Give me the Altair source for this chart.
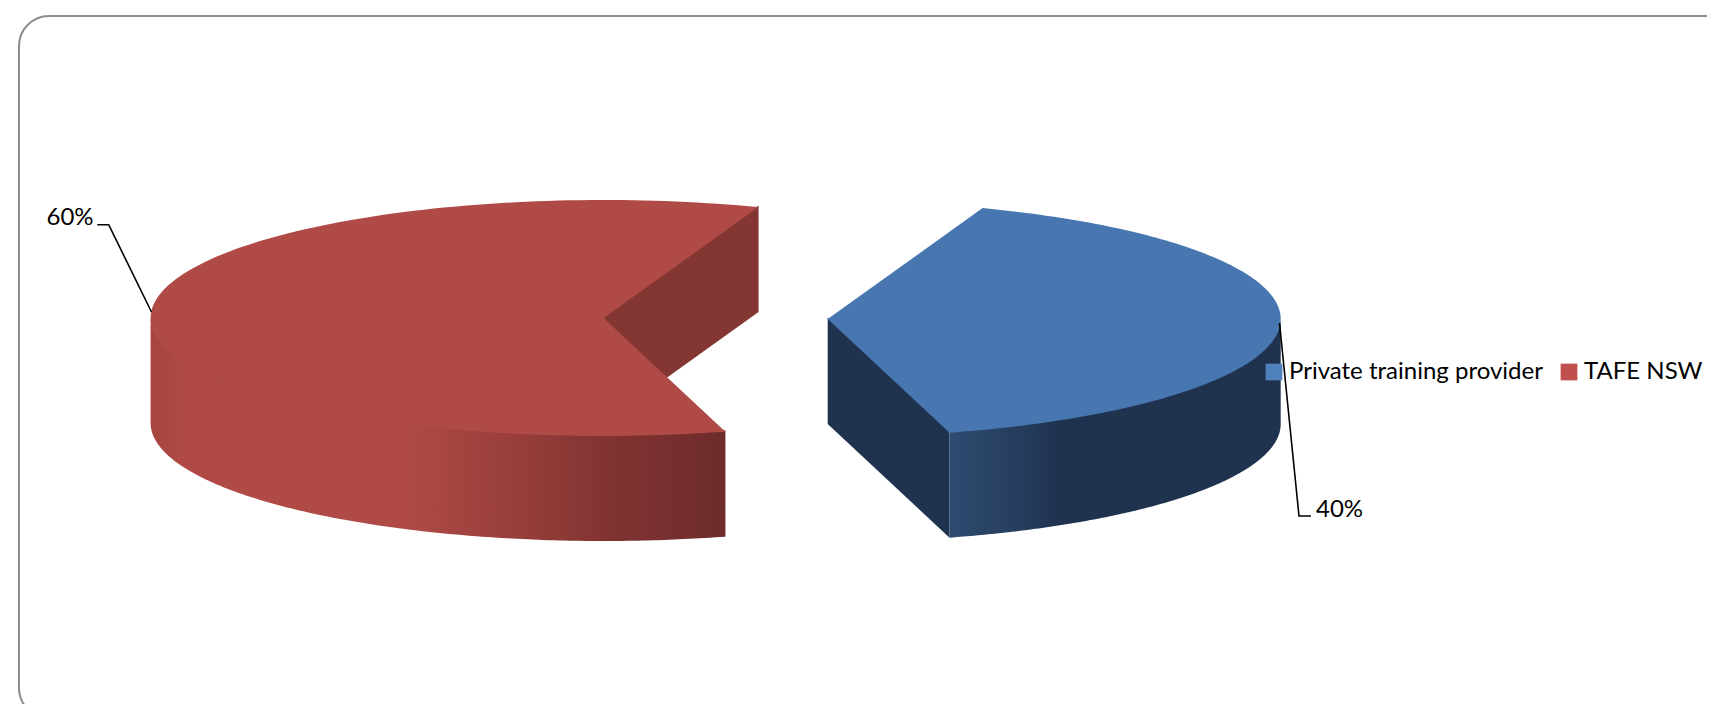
import numpy as np
import pandas as pd
import altair as alt

# Chart content
categories = ["Private training provider", "TAFE NSW"]
shares = [40, 60]
share_labels = ["40%", "60%"]
legend_colors = ["#4F81BD", "#C0504D"]

# Pie appearance
top_colors = {"TAFE NSW": "#AF4A46", "Private training provider": "#4776B0"}
notch_wall = "#843633"
cut_wall = "#1F334F"
A, B, DEPTH = 453.0, 118.0, 105.0
CENTERS = {"TAFE NSW": (603.6, 318.0), "Private training provider": (827.7, 319.0)}
START_DEG = 70.0        # elliptical parameter angle where the TAFE slice begins
PERSPECTIVE_TRIM = 0.4  # degrees lost on the front cut by the 3-D foreshortening
OVERLAP = 1.5           # walls tuck under the top faces to avoid a hairline

X = alt.Scale(domain=[8, 1707], range=[0, 1699])
Y = alt.Scale(domain=[8, 704], range=[0, 696])
xq = lambda f="x": alt.X(f"{f}:Q", scale=X, axis=None)
yq = lambda f="y": alt.Y(f"{f}:Q", scale=Y, axis=None)

share = dict(zip(categories, shares))
t_red0 = START_DEG
t_red1 = START_DEG + 360 * share["TAFE NSW"] / 100 - PERSPECTIVE_TRIM
t_blue0 = t_red1 - 360
t_blue1 = START_DEG


def rim(name, t0, t1, n=160):
    cx, cy = CENTERS[name]
    t = np.radians(np.linspace(t0, t1, n))
    return cx + A * np.cos(t), cy - B * np.sin(t)


def face(name, t0, t1):
    cx, cy = CENTERS[name]
    xs, ys = rim(name, t0, t1)
    xs = np.r_[cx, xs, cx]
    ys = np.r_[cy, ys, cy]
    df = pd.DataFrame({"x": xs, "y": ys, "i": np.arange(len(xs))})
    return (
        alt.Chart(df)
        .mark_line(fill=top_colors[name], strokeWidth=0, strokeOpacity=0, clip=True)
        .encode(x=xq(), y=yq(), order="i:Q")
    )


def wall(xs, ys, paint):
    ys = np.asarray(ys)
    df = pd.DataFrame({"x": xs, "y": ys - OVERLAP, "y2": ys + DEPTH})
    df = df.sort_values("x").reset_index(drop=True)
    return (
        alt.Chart(df)
        .mark_area(color=paint, orient="vertical")
        .encode(x=xq(), y=yq(), y2=alt.Y2("y2"))
    )


def grad(stops):
    return alt.Gradient(
        gradient="linear", x1=0, x2=1, y1=0, y2=0,
        stops=[alt.GradientStop(offset=o, color=c) for o, c in stops],
    )


# Curved outer walls (front half of each rim)
rx, ry = rim("TAFE NSW", 180, t_red1)
red_wall = wall(rx, ry, grad([(0, "#A54440"), (0.05, "#AF4A46"), (0.45, "#AF4A46"),
                              (0.63, "#983E3B"), (0.805, "#803331"), (1, "#6E2B2C")]))
bx, by = rim("Private training provider", t_blue0, 0)
blue_wall = wall(bx, by, grad([(0, "#2F4B70"), (0.2, "#263E5F"), (0.33, "#1F334F"), (1, "#1F334F")]))

# Flat cut walls
cx, cy = CENTERS["TAFE NSW"]
ex, ey = rim("TAFE NSW", t_red0, t_red0, 1)
red_cut = wall([cx, ex[0]], [cy, ey[0]], notch_wall)
cx, cy = CENTERS["Private training provider"]
ex, ey = rim("Private training provider", t_blue0, t_blue0, 1)
blue_cut = wall([cx, ex[0]], [cy, ey[0]], cut_wall)

red_face = face("TAFE NSW", t_red0, t_red1)
blue_face = face("Private training provider", t_blue0, t_blue1)

# Card outline
card = (
    alt.Chart(pd.DataFrame({"x": [19.0], "x2": [1780.0], "y": [16.0], "y2": [718.0]}))
    .mark_rect(fill="white", stroke="#8C8C8C", strokeWidth=2, cornerRadius=30, clip=True)
    .encode(x=xq(), x2=alt.X2("x2"), y=yq(), y2=alt.Y2("y2"))
)

# Leader lines
leader_60 = pd.DataFrame({"x": [151.5, 108.7, 97.3], "y": [312.0, 224.7, 224.7], "i": [0, 1, 2]})
leader_40 = pd.DataFrame({"x": [1279.5, 1299.0, 1311.0], "y": [323.0, 516.0, 516.0], "i": [0, 1, 2]})


def leader(df):
    return alt.Chart(df).mark_line(color="black", strokeWidth=1.6).encode(x=xq(), y=yq(), order="i:Q")


labels_df = pd.DataFrame({"x": [1316.0, 46.5], "y": [510.0, 218.0], "t": share_labels})
labels = (
    alt.Chart(labels_df)
    .mark_text(font="Lato", fontSize=24, align="left", baseline="middle", color="black")
    .encode(x=xq(), y=yq(), text="t:N")
)

# Legend source: a zero-sized point per category
legend_df = pd.DataFrame({"x": [100.0, 100.0], "y": [100.0, 100.0], "c": categories})
legend_layer = (
    alt.Chart(legend_df)
    .mark_square(size=0, opacity=1)
    .encode(
        x=xq(), y=yq(),
        fill=alt.Fill(
            "c:N",
            scale=alt.Scale(domain=categories, range=legend_colors),
            legend=alt.Legend(
                title=None, orient="none", legendX=1254, legendY=352, direction="horizontal",
                columns=2, symbolType="square", symbolSize=280, symbolStrokeWidth=0,
                labelFont="Lato", labelFontSize=24, labelColor="black", labelOffset=3,
                columnPadding=14, labelLimit=400, padding=0,
            ),
        ),
    )
)

chart = (
    alt.layer(card, red_wall, red_cut, red_face, blue_cut, blue_wall, blue_face,
              leader(leader_60), leader(leader_40), labels, legend_layer)
    .properties(width=1699, height=696, padding=0, autosize=alt.AutoSizeParams(type="none"),
                background="white")
    .configure_view(stroke=None)
)

chart.save("out.html", embed_options={"renderer": "svg", "actions": False})
